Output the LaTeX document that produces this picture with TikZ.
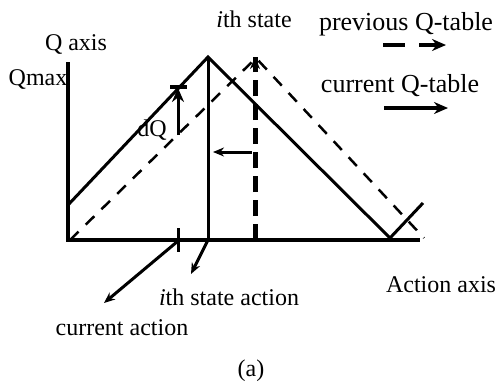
\documentclass[tikz,border=0pt]{standalone}
\usepackage{fontspec}
\setmainfont{Liberation Serif}
\usetikzlibrary{arrows.meta}
\begin{document}
\begin{tikzpicture}[x=1pt,y=-1pt,
  lbl/.style={font=\fontsize{24}{27}\selectfont, inner sep=0pt, anchor=base},
  lgd/.style={font=\fontsize{26}{29}\selectfont, inner sep=0pt, anchor=base},
  axisln/.style={line width=3.5pt},
  solidln/.style={line width=3pt},
  dashln/.style={line width=2.5pt, dash pattern=on 12pt off 10pt},
  thickdash/.style={line width=5pt, dash pattern=on 16pt off 8pt},
  tip/.style={-{Stealth[length=14pt,width=12pt]}},
  smalltip/.style={-{Stealth[length=11pt,width=9pt]}},
]
\useasboundingbox (0,0) rectangle (502,383);
% key points
\coordinate (O) at (68,240);
\coordinate (Qtop) at (68,62);
\coordinate (Aend) at (420,240);
\coordinate (S0) at (68,205);
\coordinate (P) at (208,57);
\coordinate (Pb) at (208,240);
\coordinate (V) at (390,238);
\coordinate (R) at (423,203);
\coordinate (D0) at (70,240);
\coordinate (DP) at (256,58);
\coordinate (DE) at (424,238);
\coordinate (Tb) at (255,240);
\coordinate (Tt) at (255,57);
\coordinate (Tm) at (255,70);
\coordinate (La) at (252,152);
\coordinate (Lb) at (213,152);
\coordinate (dQb) at (178,135);
\coordinate (dQt) at (178,88);
\coordinate (barL) at (170,87);
\coordinate (barR) at (187,87);
\coordinate (tk1) at (178,228);
\coordinate (tk2) at (178,252);
\coordinate (ca0) at (178,241);
\coordinate (ca1) at (104,303);
\coordinate (ia1) at (191,274);
\coordinate (lg1a) at (383,45);
\coordinate (lg1b) at (405,45);
\coordinate (lg2a) at (419,45);
\coordinate (lg2b) at (446,45);
\coordinate (lg3a) at (384,108);
\coordinate (lg3b) at (448,108);

% axes
\draw[axisln] (Qtop) -- (O) -- (Aend);
% previous Q-table (dashed)
\draw[dashln] (D0) -- (DP) -- (DE);
% current Q-table (solid)
\draw[solidln] (S0) -- (P) -- (V) -- (R);
\draw[solidln] (P) -- (Pb);
% thick dashed ith state line of previous table
\draw[thickdash] (Tb) -- (Tt);
\draw[line width=3pt, -{Stealth[length=12pt,width=10pt]}] (Tm) -- (Tt);
% shift arrow
\draw[solidln, smalltip] (La) -- (Lb);
% dQ
\draw[solidln, tip] (dQb) -- (dQt);
\draw[line width=3.5pt] (barL) -- (barR);
% current action tick and arrows
\draw[line width=3pt] (tk1) -- (tk2);
\draw[solidln, smalltip] (ca0) -- (ca1);
\draw[solidln, smalltip] (Pb) -- (ia1);
% legend
\draw[line width=3.5pt] (lg1a) -- (lg1b);
\draw[line width=3.5pt, tip] (lg2a) -- (lg2b);
\draw[line width=3.5pt, tip] (lg3a) -- (lg3b);

% labels
\node[lbl] (qaxis) at (76,50) {Q axis};
\node[lbl] (qmax) at (38,85) {Qmax};
\node[lbl] (ith) at (254,27) {\textit{i}th state};
\node[lgd] (prev) at (406,30) {previous Q-table};
\node[lgd] (curr) at (400,92) {current Q-table};
\node[lbl] (dq) at (152,136) {dQ};
\node[lbl] (actaxis) at (441,292) {Action axis};
\node[lbl] (ithact) at (229,305) {\textit{i}th state action};
\node[lbl] (curact) at (122,335) {current action};
\node[lbl] (cap) at (251,376) {(a)};
\end{tikzpicture}
\end{document}
